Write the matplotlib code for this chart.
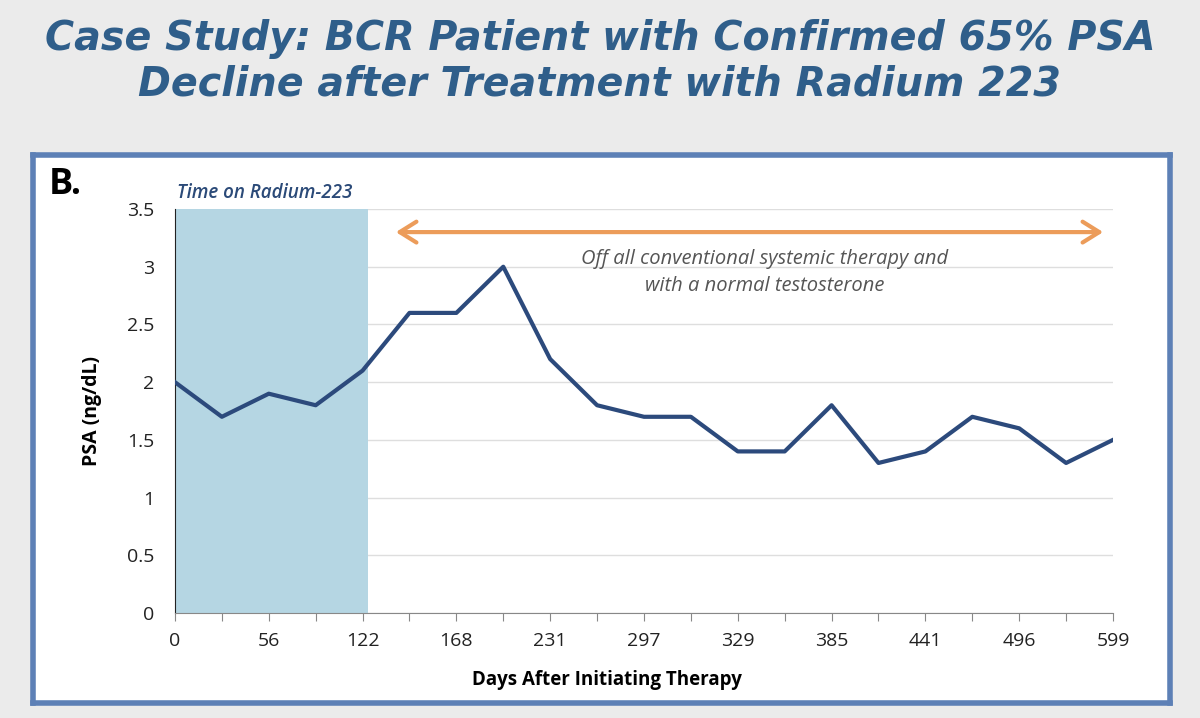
import matplotlib
matplotlib.use("Agg")
import matplotlib.pyplot as plt
from matplotlib.patches import FancyArrowPatch

# Data
days_labels = ["0", "", "56", "", "122", "", "168", "", "231", "", "297", "",
               "329", "", "385", "", "441", "", "496", "", "599"]
psa = [2.0, 1.7, 1.9, 1.8, 2.1, 2.6, 2.6, 3.0, 2.2, 1.8, 1.7, 1.7,
       1.4, 1.4, 1.8, 1.3, 1.4, 1.7, 1.6, 1.3, 1.5]
radium_end = 4.12
y_ticks = [0, 0.5, 1, 1.5, 2, 2.5, 3, 3.5]
y_tick_labels = ["0", "0.5", "1", "1.5", "2", "2.5", "3", "3.5"]

fig = plt.figure(figsize=(12, 7.18), dpi=100)
fig.patch.set_facecolor("#ebebeb")

# white framed panel (background axes)
bg = fig.add_axes([0.0275, 0.021, 0.9475, 0.763], zorder=-1)
bg.set_xticks([])
bg.set_yticks([])
bg.set_facecolor("white")
for s in bg.spines.values():
    s.set_color("#5d80b6")
    s.set_linewidth(4)

fig.text(0.5, 0.914, "Case Study: BCR Patient with Confirmed 65% PSA\nDecline after Treatment with Radium 223",
         ha="center", va="center", fontsize=28.5, fontweight="bold", fontstyle="italic",
         color="#2f5e8a", family="DejaVu Sans", linespacing=1.2)

fig.text(0.041, 0.742, "B.", fontsize=26, fontweight="bold", color="black",
         family="Open Sans", va="center", ha="left")

ax = fig.add_axes([0.1458, 0.1462, 0.9275 - 0.1458, 0.7089 - 0.1462], zorder=1)
ax.set_facecolor("none")
x = list(range(len(psa)))
ax.axvspan(0, radium_end, color="#b5d6e3", zorder=1, lw=0)
ax.plot(x, psa, color="#2c4a7c", linewidth=3, zorder=3)

ax.set_xlim(0, len(psa) - 1)
ax.set_ylim(0, 3.5)
ax.set_yticks(y_ticks)
ax.set_yticklabels(y_tick_labels)
ax.set_xticks(x)
ax.set_xticklabels(days_labels)
ax.grid(axis="y", color="#dedede", linewidth=1, zorder=0)
ax.set_axisbelow(True)
for s in ["top", "right"]:
    ax.spines[s].set_visible(False)
ax.spines["left"].set_color("#222222")
ax.spines["bottom"].set_color("#888888")
ax.tick_params(axis="y", length=0, labelsize=14, pad=15, labelcolor="#222222")
ax.tick_params(axis="x", length=6, direction="out", color="#888888", labelsize=14,
               pad=8, labelcolor="#222222")
for lbl in ax.get_xticklabels() + ax.get_yticklabels():
    lbl.set_family("Open Sans")

ax.set_ylabel("PSA (ng/dL)", fontsize=14, fontweight="bold", family="Open Sans", labelpad=12)
ax.set_xlabel("Days After Initiating Therapy", fontsize=13.5, fontweight="bold",
              family="Open Sans", labelpad=10)
ax.xaxis.set_label_coords(0.46, -0.14)
ax.yaxis.set_label_coords(-0.078, 0.5)

ax.text(0.05, 3.55, "Time on Radium-223", fontsize=13.5, fontstyle="italic",
        fontweight="semibold", color="#2b4a78", family="Open Sans", ha="left", va="bottom")

arrow = FancyArrowPatch((4.65, 3.3), (19.85, 3.3), arrowstyle="<->,head_length=8,head_width=5",
                        color="#ec9c5a", linewidth=3, mutation_scale=1.5, zorder=4)
ax.add_patch(arrow)
ax.text(12.58, 2.95, "Off all conventional systemic therapy and\nwith a normal testosterone",
        fontsize=14.5, fontstyle="italic", color="#555555", family="Open Sans",
        ha="center", va="center", linespacing=1.45, zorder=4)

fig.savefig("out.png", dpi=100, facecolor=fig.get_facecolor())
